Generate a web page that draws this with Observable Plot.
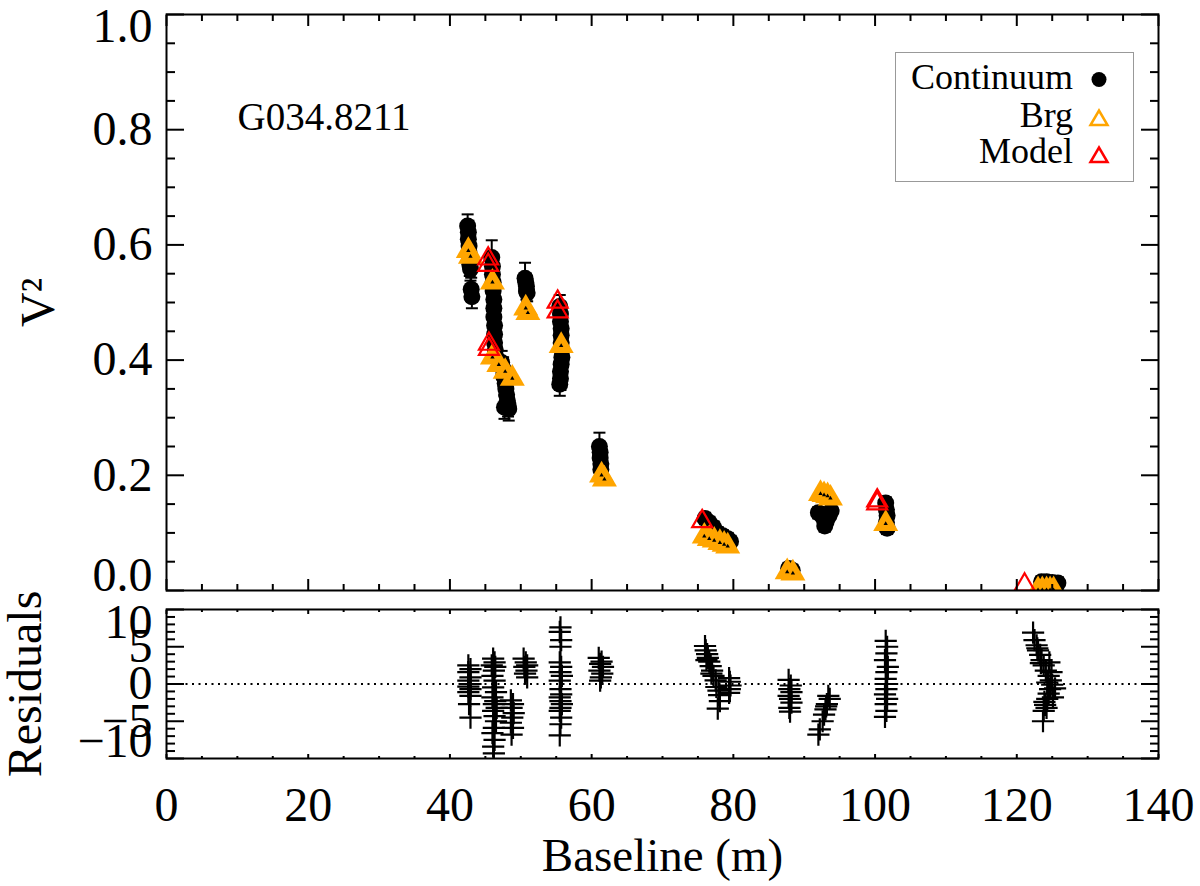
<!DOCTYPE html>
<html>
<head>
<meta charset="utf-8">
<script src="https://cdn.jsdelivr.net/npm/d3@7"></script>
<script src="https://cdn.jsdelivr.net/npm/@observablehq/plot@0.6"></script>
<style>
html,body{margin:0;padding:0;background:#fff;overflow:hidden;}
#wrap{position:relative;width:1200px;height:886px;font-family:"Liberation Serif","Times New Roman",serif;}
#top,#bot{position:absolute;left:0;}
#top{top:0;}
#bot{top:600px;}
#legend{position:absolute;left:895px;top:52px;width:239px;height:130px;}
</style>
</head>
<body>
<div id="wrap"><div id="top"></div><div id="bot"></div><div id="legend"></div></div>
<script>
// ---------- data ----------
const targetName = "G034.8211";

// Continuum V^2 (black filled circles) with errors
const contBaseline = [
  42.5,42.6,42.6,42.7,42.7,42.8,42.8,42.9,43.0,43.1,
  45.9,46.0,46.0,46.1,46.1,46.2,46.2,46.2,46.3,46.3,46.3,46.4,46.5,
  47.3,47.5,47.6,47.8,47.9,48.0,48.1,48.2,48.3,47.7,
  50.6,50.7,50.8,50.8,50.9,
  55.5,55.6,55.6,55.7,55.7,55.7,55.8,55.8,55.7,55.6,55.6,55.5,
  61.1,61.2,61.2,61.3,61.3,
  76.0,76.6,77.2,77.8,78.5,79.2,79.6,
  87.8,88.3,
  92.0,92.6,93.1,93.5,93.8,92.9,
  101.5,101.6,101.7,101.6,101.7,
  123.5,124.2,125.0,125.8
];
const contV2 = [
  0.633,0.622,0.610,0.598,0.586,0.575,0.566,0.558,0.523,0.510,
  0.578,0.563,0.549,0.535,0.520,0.505,0.490,0.475,0.460,0.445,0.430,0.418,0.405,
  0.396,0.385,0.372,0.360,0.350,0.340,0.330,0.322,0.315,0.318,
  0.542,0.535,0.528,0.520,0.517,
  0.493,0.480,0.467,0.455,0.443,0.430,0.418,0.405,0.393,0.380,0.368,0.358,
  0.250,0.240,0.230,0.220,0.210,
  0.125,0.118,0.110,0.100,0.095,0.090,0.085,
  0.038,0.035,
  0.135,0.128,0.120,0.130,0.138,0.112,
  0.152,0.140,0.130,0.118,0.108,
  0.015,0.015,0.014,0.013
];
const contErr = [
  0.020,0.020,0.020,0.020,0.020,0.020,0.020,0.020,0.020,0.020,
  0.030,0.020,0.020,0.020,0.020,0.020,0.020,0.020,0.020,0.020,0.020,0.020,0.020,
  0.020,0.020,0.020,0.020,0.020,0.020,0.020,0.020,0.020,0.020,
  0.027,0.015,0.015,0.015,0.015,
  0.020,0.020,0.020,0.020,0.020,0.020,0.020,0.020,0.020,0.020,0.020,0.020,
  0.024,0.015,0.015,0.015,0.015,
  0.010,0.010,0.010,0.010,0.010,0.010,0.010,
  0.010,0.010,
  0.010,0.010,0.010,0.010,0.010,0.010,
  0.010,0.010,0.010,0.010,0.010,
  0.010,0.010,0.010,0.010
];

// Br-gamma V^2 (orange triangles)
const brgBaseline = [42.6,42.9, 46.0, 46.0,46.9,47.8,48.8, 50.7,51.0, 55.7, 61.4,61.8,
  75.9,76.6,77.3,78.1,78.7,79.2, 87.6,88.4, 92.3,92.8,93.3,93.7, 101.5, 123.0,123.6,124.2,124.7,125.2];
const brgV2 = [0.590,0.580, 0.535, 0.405,0.392,0.380,0.368, 0.490,0.482, 0.425, 0.200,0.193,
  0.094,0.090,0.087,0.083,0.080,0.077, 0.032,0.030, 0.168,0.166,0.164,0.160, 0.116, 0.001,0.001,0.001,0.001,0.001];

// Model V^2 (red open triangles)
const modelBaseline = [45.4,45.4, 45.5,45.5, 55.2,55.2, 75.6, 100.3,100.3, 121.1];
const modelV2 = [0.576,0.565, 0.428,0.419, 0.501,0.484, 0.120, 0.156,0.151, 0.010];

// Residuals (plus signs)
const resBaseline = [
  42.6,42.9,42.6,42.9,42.6,42.9,42.6,42.9,42.6,42.9,42.7,42.9,
  46.1,46.3,45.9,46.4,46.2,46.0,46.3,46.1,46.5,46.0,46.4,46.2,46.6,46.1,46.3,46.5,46.2,46.0,46.3,46.1,46.2,
  48.6,48.9,48.7,49.0,48.8,48.6,48.9,48.7,
  50.4,50.7,50.9,50.5,50.8,50.6,50.9,
  55.6,55.5,55.7,55.6,55.5,55.7,55.6,55.8,55.5,55.6,55.7,55.5,55.6,55.8,55.6,55.5,55.7,55.6,55.5,
  61.0,61.4,61.2,61.6,61.1,61.5,61.3,61.2,
  76.0,76.1,76.3,76.4,76.6,76.8,77.0,77.2,77.5,77.9,78.0,78.1,77.8,79.4,79.5,79.6,79.5,79.4,76.2,76.9,77.6,
  87.8,88.1,87.9,88.2,87.8,88.0,88.2,87.9,88.0,
  93.4,93.6,93.2,93.0,92.8,92.6,92.2,92.0,93.1,
  101.5,101.7,101.6,101.4,101.8,101.6,101.5,101.7,101.6,101.4,101.7,101.5,101.6,101.4,
  122.3,122.5,122.8,123.0,123.3,123.5,123.8,124.1,124.5,124.8,125.0,124.7,124.5,124.3,124.0,123.8,123.7,
  122.9,123.4,124.3,124.9,125.4,125.1,124.2,123.9,124.6
];
const resValue = [
  2.5,2.0,1.6,0.9,0.45,0,-0.36,-0.7,-1.1,-1.6,-2.7,-4.5,
  3.4,2.9,2.5,2.3,1.8,1.1,0.45,-0.45,-1.1,-1.8,-2.3,-2.7,-3.2,-3.6,-4.3,-5.0,-5.9,-6.6,-7.5,-8.4,-9.3,
  -2.2,-2.7,-3.2,-3.9,-4.5,-5.2,-5.9,-6.8,
  3.4,2.9,2.5,2.3,1.8,1.4,0.9,
  7.6,7.0,5.9,5.0,2.9,2.3,1.6,1.1,0.45,-0.7,-1.4,-1.8,-2.3,-2.7,-3.2,-3.6,-4.5,-5.4,-6.9,
  3.5,3.0,2.7,2.3,1.8,1.4,0.9,0.45,
  5.1,4.5,4.0,3.5,3.0,2.4,1.8,1.1,0.5,-0.9,-1.5,-2.3,-3.3,0.8,0.3,-0.2,-0.7,-1.2,3.2,1.4,-0.4,
  0.55,-0.2,-0.7,-1.1,-1.6,-2.0,-2.5,-3.2,-3.7,
  -1.6,-2.0,-2.7,-3.4,-4.1,-5.0,-6.1,-6.8,-3.0,
  5.8,5.0,4.1,3.2,2.3,1.6,0.7,0,-0.7,-1.4,-2.0,-2.7,-3.6,-4.4,
  6.9,5.9,5.2,4.5,3.9,3.2,2.5,1.8,1.1,0.5,-0.1,-0.7,-1.3,-2.0,-2.8,-3.6,-5.0,
  4.8,2.8,0.2,1.6,-0.6,-1.8,-3.2,-2.4,2.9
];

// Axis ticks
const xMajor = [0,20,40,60,80,100,120,140];
const xMinor = d3.range(0,141,5).filter(d => d % 20 !== 0);
const v2Major = [0,0.2,0.4,0.6,0.8,1.0];
const v2Minor = d3.range(0,21).filter(i => i % 4 !== 0).map(i => i*0.05);
const resMajor = [-10,-5,0,5,10];
const resMinor = d3.range(-10,11).filter(d => d % 5 !== 0);

const legendItems = ["Continuum","Brg","Model"];

// ---------- tables ----------
const cont = contBaseline.map((b,i) => ({b, v: contV2[i], e: contErr[i]}));
const brg = brgBaseline.map((b,i) => ({b, v: brgV2[i]}));
const model = modelBaseline.map((b,i) => ({b, v: modelV2[i]}));
const res = resBaseline.map((b,i) => ({b, r: resValue[i]}));

const FONT = '"Liberation Serif","Times New Roman",serif';
const ORANGE = "#FFA500", RED = "#FF0000";
const capSym = {draw(ctx){ ctx.moveTo(-6,0); ctx.lineTo(6,0); }};

function ticksX(values, size){
  return [
    Plot.axisX(values,{anchor:"bottom", tickSize:size, dy:-size, tickFormat:()=>"", label:null, strokeWidth:2}),
    Plot.axisX(values,{anchor:"top", tickSize:size, dy:size, tickFormat:()=>"", label:null, strokeWidth:2})
  ];
}
function ticksY(values, size){
  return [
    Plot.axisY(values,{anchor:"left", tickSize:size, dx:size, tickFormat:()=>"", label:null, strokeWidth:2}),
    Plot.axisY(values,{anchor:"right", tickSize:size, dx:-size, tickFormat:()=>"", label:null, strokeWidth:2})
  ];
}

// ---------- top panel ----------
const topPlot = Plot.plot({
  width:1200, height:600,
  marginTop:14, marginBottom:10, marginLeft:166, marginRight:42,
  style:{fontFamily:FONT, background:"white", overflow:"visible"},
  x:{domain:[0,140]},
  y:{domain:[0,1]},
  marks:[
    Plot.ruleX(cont,{x:"b", y1:d=>d.v-d.e, y2:d=>d.v+d.e, stroke:"black", strokeWidth:2, clip:true}),
    Plot.dot(cont,{x:"b", y:d=>d.v-d.e, symbol:capSym, stroke:"black", strokeWidth:2, clip:true}),
    Plot.dot(cont,{x:"b", y:d=>d.v+d.e, symbol:capSym, stroke:"black", strokeWidth:2, clip:true}),
    Plot.dot(cont,{x:"b", y:"v", r:8.5, fill:"black", clip:true}),
    Plot.dot(brg,{x:"b", y:"v", symbol:"triangle", r:9.3, fill:ORANGE, clip:true}),
    Plot.dot(brg,{x:"b", y:"v", symbol:"triangle", r:1.6, fill:"black", clip:true}),
    Plot.dot(model,{x:"b", y:"v", symbol:"triangle", r:7.4, fill:"none", stroke:RED, strokeWidth:2.2, clip:true}),
    Plot.frame({stroke:"black", strokeWidth:2}),
    ...ticksX(xMajor, 11), ...ticksX(xMinor, 6),
    ...ticksY(v2Major, 18), ...ticksY(v2Minor, 9),
    Plot.axisY([0.2,0.4,0.6,0.8],{anchor:"left", tickSize:0, tickPadding:14, tickFormat:".1f", fontSize:48, label:null}),
    Plot.axisY([1.0],{anchor:"left", tickSize:0, tickPadding:14, tickFormat:".1f", fontSize:48, label:null, dy:12}),
    Plot.axisY([0],{anchor:"left", tickSize:0, tickPadding:14, tickFormat:".1f", fontSize:48, label:null, dy:-15}),
    Plot.text(["V²"],{frameAnchor:"left", dx:-128, rotate:-90, textAnchor:"middle", lineAnchor:"middle", fontSize:48, fill:"black"}),
    Plot.text([targetName],{frameAnchor:"top-left", dx:71, dy:103, textAnchor:"start", lineAnchor:"middle", fontSize:39, fill:"black"})
  ]
});
document.getElementById("top").appendChild(topPlot);

// ---------- residual panel ----------
const botPlot = Plot.plot({
  width:1200, height:286,
  marginTop:9, marginBottom:128, marginLeft:166, marginRight:42,
  style:{fontFamily:FONT, background:"white", overflow:"visible"},
  x:{domain:[0,140]},
  y:{domain:[-10,10]},
  marks:[
    Plot.ruleY([0],{stroke:"black", strokeWidth:2, strokeDasharray:"2,4.5"}),
    Plot.dot(res,{x:"b", y:"r", symbol:"plus", r:7.2, stroke:"black", strokeWidth:2.2, clip:true}),
    Plot.frame({stroke:"black", strokeWidth:2}),
    ...ticksX(xMajor, 4), ...ticksX(xMinor, 2),
    ...ticksY(resMajor, 18), ...ticksY(resMinor, 9),
    Plot.axisY([-5,0,5],{anchor:"left", tickSize:0, tickPadding:14, fontSize:48, label:null}),
    Plot.axisY([10],{anchor:"left", tickSize:0, tickPadding:14, fontSize:48, label:null, dy:13}),
    Plot.axisY([-10],{anchor:"left", tickSize:0, tickPadding:14, fontSize:48, label:null, dy:-17}),
    Plot.axisX(xMajor,{anchor:"bottom", tickSize:0, tickPadding:28, fontSize:48, label:null}),
    Plot.text(["Residuals"],{frameAnchor:"left", dx:-141, rotate:-90, textAnchor:"middle", lineAnchor:"middle", fontSize:48, fill:"black"}),
    Plot.text(["Baseline (m)"],{frameAnchor:"bottom", dy:97, textAnchor:"middle", lineAnchor:"middle", fontSize:47, fill:"black"})
  ]
});
document.getElementById("bot").appendChild(botPlot);

// ---------- legend ----------
const lg = d3.select("#legend").append("svg").attr("width",239).attr("height",130)
  .style("font-family",FONT).style("overflow","visible");
lg.append("rect").attr("x",0.5).attr("y",0.5).attr("width",238).attr("height",129)
  .attr("fill","white").attr("stroke","#999").attr("stroke-width",1);
const baselines = [37,75,111];
legendItems.forEach((t,i) => {
  lg.append("text").attr("x",178).attr("y",baselines[i]).attr("text-anchor","end")
    .attr("font-size",36).attr("fill","black").text(t);
});
lg.append("circle").attr("cx",204).attr("cy",27.5).attr("r",7.5).attr("fill","black");
const tri = (cy, col) => lg.append("path")
  .attr("d",`M${204-8.5},${cy+7} L${204+8.5},${cy+7} L204,${cy-7.5} Z`)
  .attr("fill","none").attr("stroke",col).attr("stroke-width",2.5);
tri(66, ORANGE);
tri(103, RED);
</script>
</body>
</html>
